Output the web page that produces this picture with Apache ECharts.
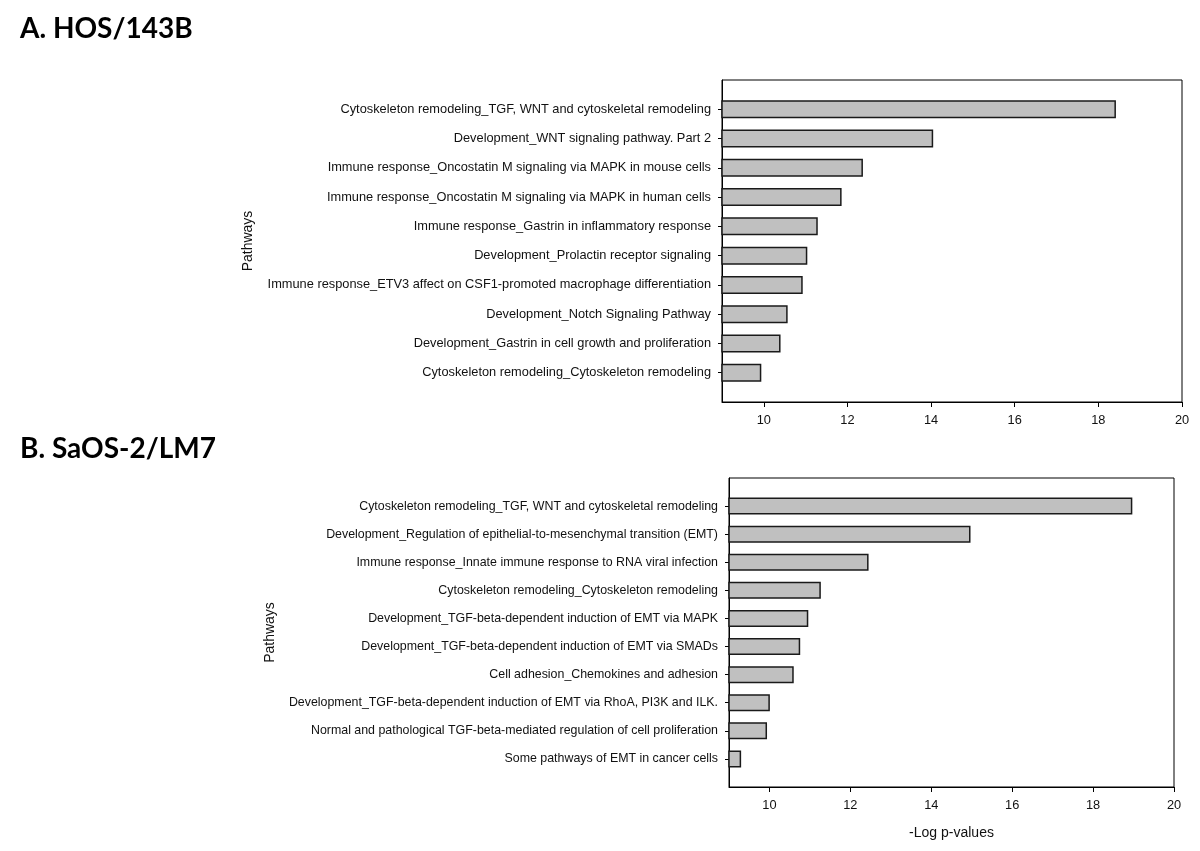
<!DOCTYPE html>
<html>
<head>
<meta charset="utf-8">
<script src="https://cdn.jsdelivr.net/npm/echarts@6/dist/echarts.min.js"></script>
<style>
html,body{margin:0;padding:0;background:#fff;}
#chart{width:1200px;height:851px;}
</style>
</head>
<body>
<div id="chart"></div>
<script>
const titleA = 'A. HOS/143B';
const titleB = 'B. SaOS-2/LM7';
const yAxisTitle = 'Pathways';
const xAxisTitle = '-Log p-values';

const categoriesA = [
  'Cytoskeleton remodeling_TGF, WNT and cytoskeletal remodeling',
  'Development_WNT signaling pathway. Part 2',
  'Immune response_Oncostatin M signaling via MAPK in mouse cells',
  'Immune response_Oncostatin M signaling via MAPK in human cells',
  'Immune response_Gastrin in inflammatory response',
  'Development_Prolactin receptor signaling',
  'Immune response_ETV3 affect on CSF1-promoted macrophage differentiation',
  'Development_Notch Signaling Pathway',
  'Development_Gastrin in cell growth and proliferation',
  'Cytoskeleton remodeling_Cytoskeleton remodeling'
];
const valuesA = [18.42, 14.05, 12.37, 11.86, 11.29, 11.04, 10.93, 10.57, 10.40, 9.94];

const categoriesB = [
  'Cytoskeleton remodeling_TGF, WNT and cytoskeletal remodeling',
  'Development_Regulation of epithelial-to-mesenchymal transition (EMT)',
  'Immune response_Innate immune response to RNA viral infection',
  'Cytoskeleton remodeling_Cytoskeleton remodeling',
  'Development_TGF-beta-dependent induction of EMT via MAPK',
  'Development_TGF-beta-dependent induction of EMT via SMADs',
  'Cell adhesion_Chemokines and adhesion',
  'Development_TGF-beta-dependent induction of EMT via RhoA, PI3K and ILK.',
  'Normal and pathological TGF-beta-mediated regulation of cell proliferation',
  'Some pathways of EMT in cancer cells'
];
const valuesB = [18.97, 14.97, 12.45, 11.27, 10.96, 10.76, 10.60, 10.01, 9.94, 9.30];

const xTickValues = [10, 12, 14, 16, 18, 20];
const xMin = 9, xMax = 20;

// pad categories with an empty slot above and below (boundaryGap false)
const padCats = c => [''].concat(c, [' ']);
const padVals = v => ['-'].concat(v, ['-']);

function font(size) { return { fontFamily: 'Liberation Sans', fontSize: size, color: '#111' }; }

function xAxisCfg(gridIndex, withName) {
  return {
    type: 'value', gridIndex, min: xMin, max: xMax,
    axisLine: { show: true, lineStyle: { color: '#000', width: 1 } },
    axisTick: { show: true, length: 5, customValues: xTickValues, lineStyle: { color: '#000' } },
    axisLabel: Object.assign({ customValues: xTickValues, margin: 12 }, font(12.8)),
    splitLine: { show: false },
    name: withName ? xAxisTitle : '',
    nameLocation: 'middle', nameGap: 39,
    nameTextStyle: font(14)
  };
}
function yAxisCfg(gridIndex, cats, gap, size) {
  return {
    type: 'category', gridIndex, data: padCats(cats), inverse: true, boundaryGap: false,
    axisLine: { show: true, lineStyle: { color: '#000', width: 1 } },
    axisTick: { show: true, length: 4, interval: (i, v) => v.trim() !== '', lineStyle: { color: '#000' } },
    axisLabel: Object.assign({ interval: 0, margin: 11 }, font(size)),
    splitLine: { show: false },
    name: yAxisTitle, nameLocation: 'middle', nameRotate: 90, nameGap: gap,
    nameMoveOverlap: false,
    nameTextStyle: font(14)
  };
}
function barSeries(idx, vals, w) {
  return {
    type: 'bar', xAxisIndex: idx, yAxisIndex: idx, data: padVals(vals), barWidth: w,
    itemStyle: { color: '#c0c0c0', borderColor: '#1a1a1a', borderWidth: 1.5 },
    clip: true, silent: true
  };
}

const chart = echarts.init(document.getElementById('chart'), null, { renderer: 'canvas' });
chart.setOption({
  backgroundColor: '#fff',
  animation: false,
  title: [
    { text: titleA, left: 15, top: 10, textStyle: { fontFamily: 'Lato', fontWeight: 'bold', fontSize: 28, color: '#000' } },
    { text: titleB, left: 15, top: 430, textStyle: { fontFamily: 'Lato', fontWeight: 'bold', fontSize: 28, color: '#000' } }
  ],
  grid: [
    { left: 722, top: 80, right: 18, height: 322, show: true, borderColor: '#000', borderWidth: 1, containLabel: false },
    { left: 729, top: 478, right: 26, height: 309, show: true, borderColor: '#000', borderWidth: 1, containLabel: false }
  ],
  xAxis: [xAxisCfg(0, false), xAxisCfg(1, true)],
  yAxis: [yAxisCfg(0, categoriesA, 467, 12.8), yAxisCfg(1, categoriesB, 452, 12.4)],
  series: [barSeries(0, valuesA, 18), barSeries(1, valuesB, 17)]
});
</script>
</body>
</html>
